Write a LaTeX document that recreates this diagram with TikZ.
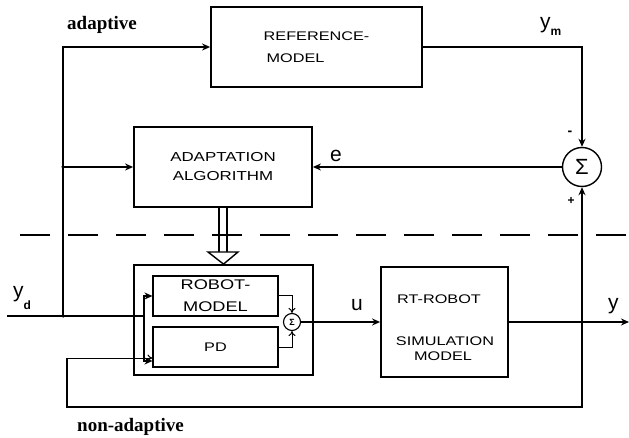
\documentclass[tikz,border=0pt]{standalone}
\usepackage{fontspec}
\setmainfont{Liberation Sans}
\newfontfamily\boxfont[FakeStretch=1.3]{Liberation Sans}
\newfontfamily\annfont{Liberation Serif}
\usetikzlibrary{arrows.meta}
\begin{document}
\begin{tikzpicture}[x=1pt,y=-1pt,
  blk/.style={draw, line width=1.8pt, inner sep=0pt, align=center},
  inblk/.style={draw, line width=1.1pt, inner sep=0pt, align=center},
  sig/.style={draw, circle, line width=1.4pt, inner sep=0pt},
  txt/.style={inner sep=0pt, align=center},
  wire/.style={line width=1.8pt},
  arr/.style={wire, -{Stealth[length=8pt,width=7pt]}},
  openarr/.style={line width=1pt, -{To[length=5pt,width=7pt]}},
  lbl/.style={inner sep=0pt, font=\fontsize{21}{21}\selectfont},
  ann/.style={inner sep=0pt, font=\annfont\bfseries\fontsize{19}{19}\selectfont},
  dot/.style={circle, fill, inner sep=0pt, minimum size=3.5pt}]
\useasboundingbox (0,0) rectangle (629,438);

% blocks
\node[blk, minimum width=211, minimum height=80,
  font=\boxfont\fontsize{12.5}{21.5}\selectfont] (ref) at (316.5,47)
  {REFERENCE-\\\hspace*{-42pt}MODEL};
\node[blk, minimum width=178, minimum height=80,
  font=\boxfont\fontsize{13}{19}\selectfont] (adapt) at (223,167)
  {ADAPTATION\\ALGORITHM};
\node[blk, minimum width=179, minimum height=110] (outer) at (223.5,320) {};
\node[inblk, minimum width=125, minimum height=40,
  font=\boxfont\fontsize{14}{22}\selectfont] (rm) at (215.5,296)
  {ROBOT-\\MODEL};
\node[inblk, minimum width=125, minimum height=40,
  font=\boxfont\fontsize{12.5}{15}\selectfont] (pd) at (215.5,347) {PD};
\node[sig, line width=1.1pt, minimum size=17] (ss) at (292,322)
  {\fontsize{9}{9}\selectfont\bfseries Σ};
\node[sig, minimum size=39] (bs) at (582,167)
  {\fontsize{22}{22}\selectfont Σ};
\node[blk, minimum width=127, minimum height=110] (rt) at (444.5,322) {};
\node[txt, font=\boxfont\fontsize{12.5}{15}\selectfont] (rt1) at (439,299.5) {RT-ROBOT};
\node[txt, font=\boxfont\fontsize{12.5}{15}\selectfont] (rt2) at (445,341) {SIMULATION};
\node[txt, font=\boxfont\fontsize{12.5}{15}\selectfont] (rt3) at (443,356) {MODEL};

% coordinates
\coordinate (yin) at (7,316);
\coordinate (j) at (144,316);
\coordinate (a1) at (63,316);
\coordinate (tap) at (582,322);
\coordinate (yout) at (629,322);
\coordinate (fb1) at (582,407);
\coordinate (fb2) at (67,407);
\coordinate (fb3) at (67,358);
\coordinate (d1) at (20,235);
\coordinate (d2) at (629,235);

% dashed separator
\draw[line width=1.3pt, dash pattern=on 30pt off 18pt] (d1) -- (d2);

% input and adaptive paths
\draw[wire] (yin) -- (j);
\draw[arr] (j) |- (rm.west);
\draw[arr] (j) |- ([yshift=-14pt]pd.west);
\draw[arr] (a1) |- (ref.west);
\draw[arr] (a1 |- adapt.west) -- (adapt.west);
\node[dot] (dA) at (a1) {};
\node[dot] (dB) at (a1 |- adapt.west) {};

% reference model to summation
\draw[arr] (ref.east) -| (bs.north);
\draw[arr] (bs.west) -- (adapt.east);

% inner summation
\draw[openarr] (rm.east) -| (ss.north);
\draw[openarr] (pd.east) -| (ss.south);
\draw[arr] (ss.east) -- (rt.west);
\draw[arr] (rt.east) -- (yout);
\draw[arr] (tap) -- (bs.south);
\node[dot] (dC) at (tap) {};

% non-adaptive feedback
\draw[wire] (tap) -- (fb1) -- (fb2) -- (fb3);
\draw[openarr] (fb3) -- (pd.west |- fb3);

% double arrow from adaptation to controller
\draw[line width=1.4pt] ([xshift=-4pt]adapt.south) -- ++(0,45);
\draw[line width=1.4pt] ([xshift=4pt]adapt.south) -- ++(0,45);
\draw[line width=1.4pt, fill=white, line join=miter] (208,252) -- (238,252) -- (outer.north) -- cycle;

% labels
\node[ann, anchor=base west] (adl) at (67,30) {adaptive};
\node[ann, anchor=base west] (nadl) at (77,431) {non-adaptive};
\node[lbl, anchor=base west] (ydl) at (13,298) {y\raisebox{-12pt}{\fontsize{12}{12}\selectfont\bfseries d}};
\node[lbl, anchor=base west] (yml) at (540,29) {y\raisebox{-7pt}{\fontsize{12}{12}\selectfont\bfseries m}};
\node[lbl, anchor=base west] (yl) at (608,309) {y};
\node[lbl] (el) at (336,156) {e};
\node[lbl] (ul) at (357,305) {u};
\node[txt, font=\bfseries\fontsize{14}{14}\selectfont] (minus) at (570,133) {-};
\node[txt, font=\bfseries\fontsize{12}{12}\selectfont] (plus) at (571,201) {+};
\end{tikzpicture}
\end{document}
